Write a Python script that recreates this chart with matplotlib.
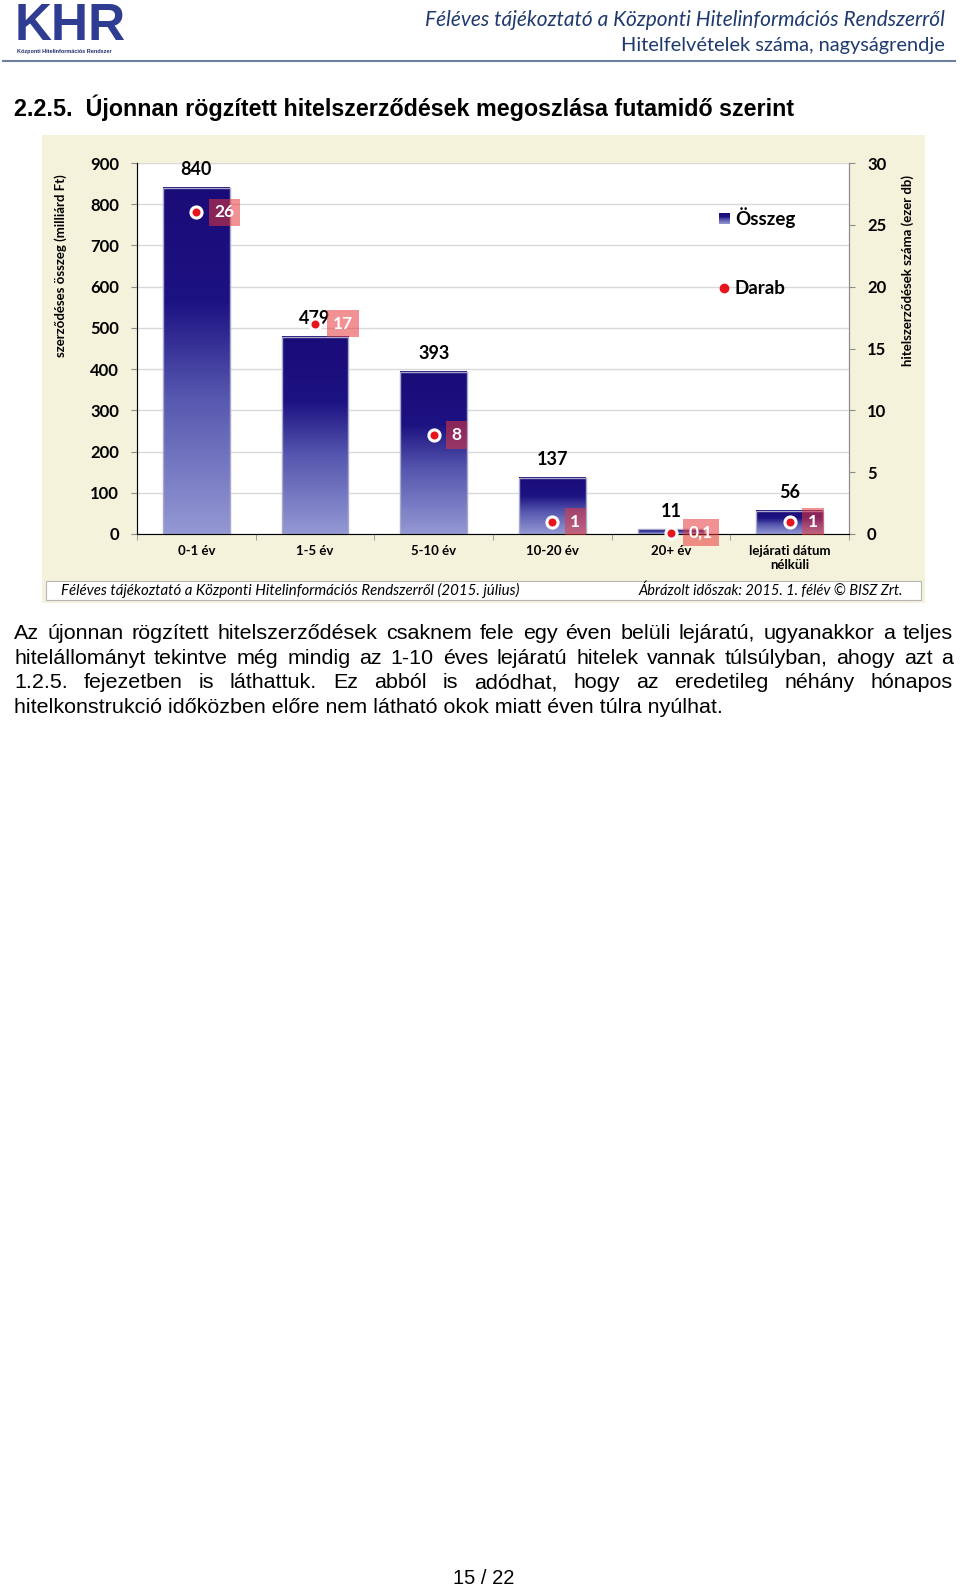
import matplotlib
matplotlib.use('Agg')
import matplotlib.pyplot as plt
import numpy as np
from matplotlib.colors import LinearSegmentedColormap
from matplotlib.patches import Rectangle
from matplotlib.lines import Line2D

# Adatok
kategoriak = ['0-1 év', '1-5 év', '5-10 év', '10-20 év', '20+ év', 'lejárati dátum\nnélküli']
osszeg = [840, 479, 393, 137, 11, 56]          # milliárd Ft
darab = [26, 17, 8, 1, 0.1, 1]                 # ezer db
darab_cimkek = ['26', '17', '8', '1', '0,1', '1']
bal_tengely = list(range(0, 901, 100))
jobb_tengely = list(range(0, 31, 5))

szoveg_sorok = [
    'Az újonnan rögzített hitelszerződések csaknem fele egy éven belüli lejáratú, ugyanakkor a teljes',
    'hitelállományt tekintve még mindig az 1-10 éves lejáratú hitelek vannak túlsúlyban, ahogy azt a',
    '1.2.5. fejezetben is láthattuk. Ez abból is adódhat, hogy az eredetileg néhány hónapos',
    'hitelkonstrukció időközben előre nem látható okok miatt éven túlra nyúlhat.',
]

W, H = 960, 1589
BETU = ['Lato', 'DejaVu Sans']
ARIAL = ['Liberation Sans', 'DejaVu Sans']
FEJ_SZIN = '#1F3A6E'


def fx(x):
    return x / W


def fy(y):
    return 1 - y / H


fig = plt.figure(figsize=(9.6, 15.89), dpi=100)
rend = fig.canvas.get_renderer()


def illeszt(t, cel):
    # betűméret igazítása a kívánt szélességhez
    w = t.get_window_extent(rend).width
    t.set_fontsize(t.get_fontsize() * cel / w)


# --- fejléc ---
fig.text(fx(15), fy(27), 'KHR', fontsize=37, fontweight='bold', color='#2E3C92',
         family=ARIAL, va='center', ha='left')
fig.text(fx(17), fy(52), 'Központi Hitelinformációs Rendszer', fontsize=4,
         fontweight='bold', color='#1F2F70', family=ARIAL, va='center', ha='left')
t = fig.text(fx(945), fy(20), 'Féléves tájékoztató a Központi Hitelinformációs Rendszerről',
             fontsize=13, style='italic', color=FEJ_SZIN, family=BETU, ha='right', va='center')
illeszt(t, 519)
t = fig.text(fx(945), fy(46), 'Hitelfelvételek száma, nagyságrendje',
             fontsize=13, color=FEJ_SZIN, family=BETU, ha='right', va='center')
illeszt(t, 324)
fig.add_artist(Line2D([fx(3), fx(955)], [fy(61), fy(61)], color='#6D7F9F', lw=1.5))

t = fig.text(fx(14), fy(108), '2.2.5.  Újonnan rögzített hitelszerződések megoszlása futamidő szerint',
             fontsize=15, fontweight='bold', family=ARIAL, ha='left', va='center')
illeszt(t, 782)

# --- diagram háttere ---
fig.patches.append(Rectangle((fx(42), fy(603)), (925 - 42) / W, (603 - 135) / H,
                             transform=fig.transFigure, facecolor='#F4F2DA',
                             edgecolor='none', zorder=-3))
fig.patches.append(Rectangle((fx(46), fy(600)), (921 - 46) / W, (600 - 581) / H,
                             transform=fig.transFigure, facecolor='white',
                             edgecolor='#B5B5B5', lw=0.8, zorder=-2))

ax = fig.add_axes([fx(137), fy(534), (849 - 137) / W, (534 - 163) / H])
ax.set_facecolor('white')
x = np.arange(len(kategoriak))

kek = LinearSegmentedColormap.from_list(
    'kek', [(0, '#9499D4'), (0.4, '#5556AE'), (0.67, '#1D1282'), (1, '#1A0C78')])
grad = np.linspace(0, 1, 256).reshape(-1, 1)

oszlopok = ax.bar(x, osszeg, width=0.56, color='none', edgecolor='#A8A8C8', lw=1, zorder=3)
for b in oszlopok:
    x0, w, h = b.get_x(), b.get_width(), b.get_height()
    ax.imshow(grad, cmap=kek, origin='lower', extent=(x0, x0 + w, 0, h),
              aspect='auto', zorder=2, interpolation='bilinear')

ax.set_xlim(-0.5, 5.5)
ax.set_ylim(0, 900)

for xi, v in zip(x, osszeg):
    ax.annotate(str(v), (xi, v), xytext=(0, 7), textcoords='offset points',
                ha='center', va='bottom', fontsize=13, fontweight='bold', family=BETU)

ax.set_xticks(x)
ax.set_xticklabels(kategoriak, fontsize=9.5, fontweight='bold', family=BETU)
ax.set_xticks(np.arange(-0.5, 6, 1), minor=True)
ax.tick_params(axis='x', which='major', length=0, pad=8)
ax.tick_params(axis='x', which='minor', length=4, color='#8C8C8C')
ax.set_yticks(bal_tengely)
ax.tick_params(axis='y', length=4, pad=9, labelsize=12, color='#8C8C8C')
for lb in ax.get_yticklabels():
    lb.set_fontweight('bold')
    lb.set_family(BETU)
ax.grid(axis='y', color='#D9D9D9', lw=1)
ax.set_axisbelow(True)
ax.spines['top'].set_visible(False)
for s in ['left', 'bottom', 'right']:
    ax.spines[s].set_color('#8C8C8C')

ax2 = ax.twinx()
ax2.set_ylim(0, 30)
ax2.set_yticks(jobb_tengely)
ax2.tick_params(axis='y', length=4, pad=9, labelsize=12, color='#8C8C8C')
for lb in ax2.get_yticklabels():
    lb.set_fontweight('bold')
    lb.set_family(BETU)
ax2.spines['top'].set_visible(False)
ax2.spines['right'].set_color('#8C8C8C')
ax2.plot(x, darab, linestyle='none', marker='o', ms=8, mfc='#E8141C', mec='white',
         mew=2.2, zorder=5, clip_on=False)
for xi, d, c in zip(x, darab, darab_cimkek):
    ax2.annotate(c, (xi, d), xytext=(13, 0), textcoords='offset points', ha='left',
                 va='center', color='white', fontsize=12.5, fontweight='bold', family=BETU,
                 bbox=dict(boxstyle='square,pad=0.33', fc=(0.9, 0.22, 0.24, 0.55), ec='none'),
                 zorder=6)

# tengelyfeliratok
fig.text(fx(61), fy(266), 'szerződéses összeg (milliárd Ft)', rotation=90, ha='center',
         va='center', fontsize=9.5, fontweight='bold', family=BETU)
fig.text(fx(908), fy(271), 'hitelszerződések száma (ezer db)', rotation=90, ha='center',
         va='center', fontsize=9.5, fontweight='bold', family=BETU)

# jelmagyarázat
lax = fig.add_axes([fx(719), fy(224), 11 / W, 11 / H])
lax.imshow(grad, cmap=kek, origin='lower', aspect='auto', extent=(0, 1, 0, 1))
lax.axis('off')
fig.text(fx(735), fy(218), 'Összeg', fontsize=13.5, fontweight='bold', family=BETU, va='center')
fig.add_artist(Line2D([fx(724)], [fy(288)], marker='o', ms=6, color='#E8141C', ls='none'))
fig.text(fx(735), fy(288), 'Darab', fontsize=13.5, fontweight='bold', family=BETU, va='center')

# forrás
t = fig.text(fx(61), fy(590), 'Féléves tájékoztató a Központi Hitelinformációs Rendszerről (2015. július)',
             fontsize=9.5, style='italic', family=BETU, va='center', ha='left')
illeszt(t, 461)
t = fig.text(fx(903), fy(590), 'Ábrázolt időszak: 2015. 1. félév © BISZ Zrt.',
             fontsize=9.5, style='italic', family=BETU, va='center', ha='right')
illeszt(t, 267)

# --- sorkizárt szöveg (alapvonalra igazítva) ---
sor_y = [639, 664, 688, 713]
t = fig.text(fx(14), fy(sor_y[-1]), szoveg_sorok[-1], fontsize=13, family=ARIAL,
             ha='left', va='baseline')
illeszt(t, 708)
meret = t.get_fontsize()
for sor, y in zip(szoveg_sorok[:-1], sor_y[:-1]):
    szavak = sor.split(' ')
    tt = [fig.text(0, fy(y), s, fontsize=meret, family=ARIAL, ha='left', va='baseline')
          for s in szavak]
    sz = [e.get_window_extent(rend).width for e in tt]
    hezag = (953 - 14 - sum(sz)) / (len(szavak) - 1)
    pos = 14
    for e, w in zip(tt, sz):
        e.set_x(fx(pos))
        pos += w + hezag

fig.text(fx(484), fy(1578), '15 / 22', fontsize=14.5, family=ARIAL, ha='center', va='center')

fig.savefig('out.png', dpi=100)
